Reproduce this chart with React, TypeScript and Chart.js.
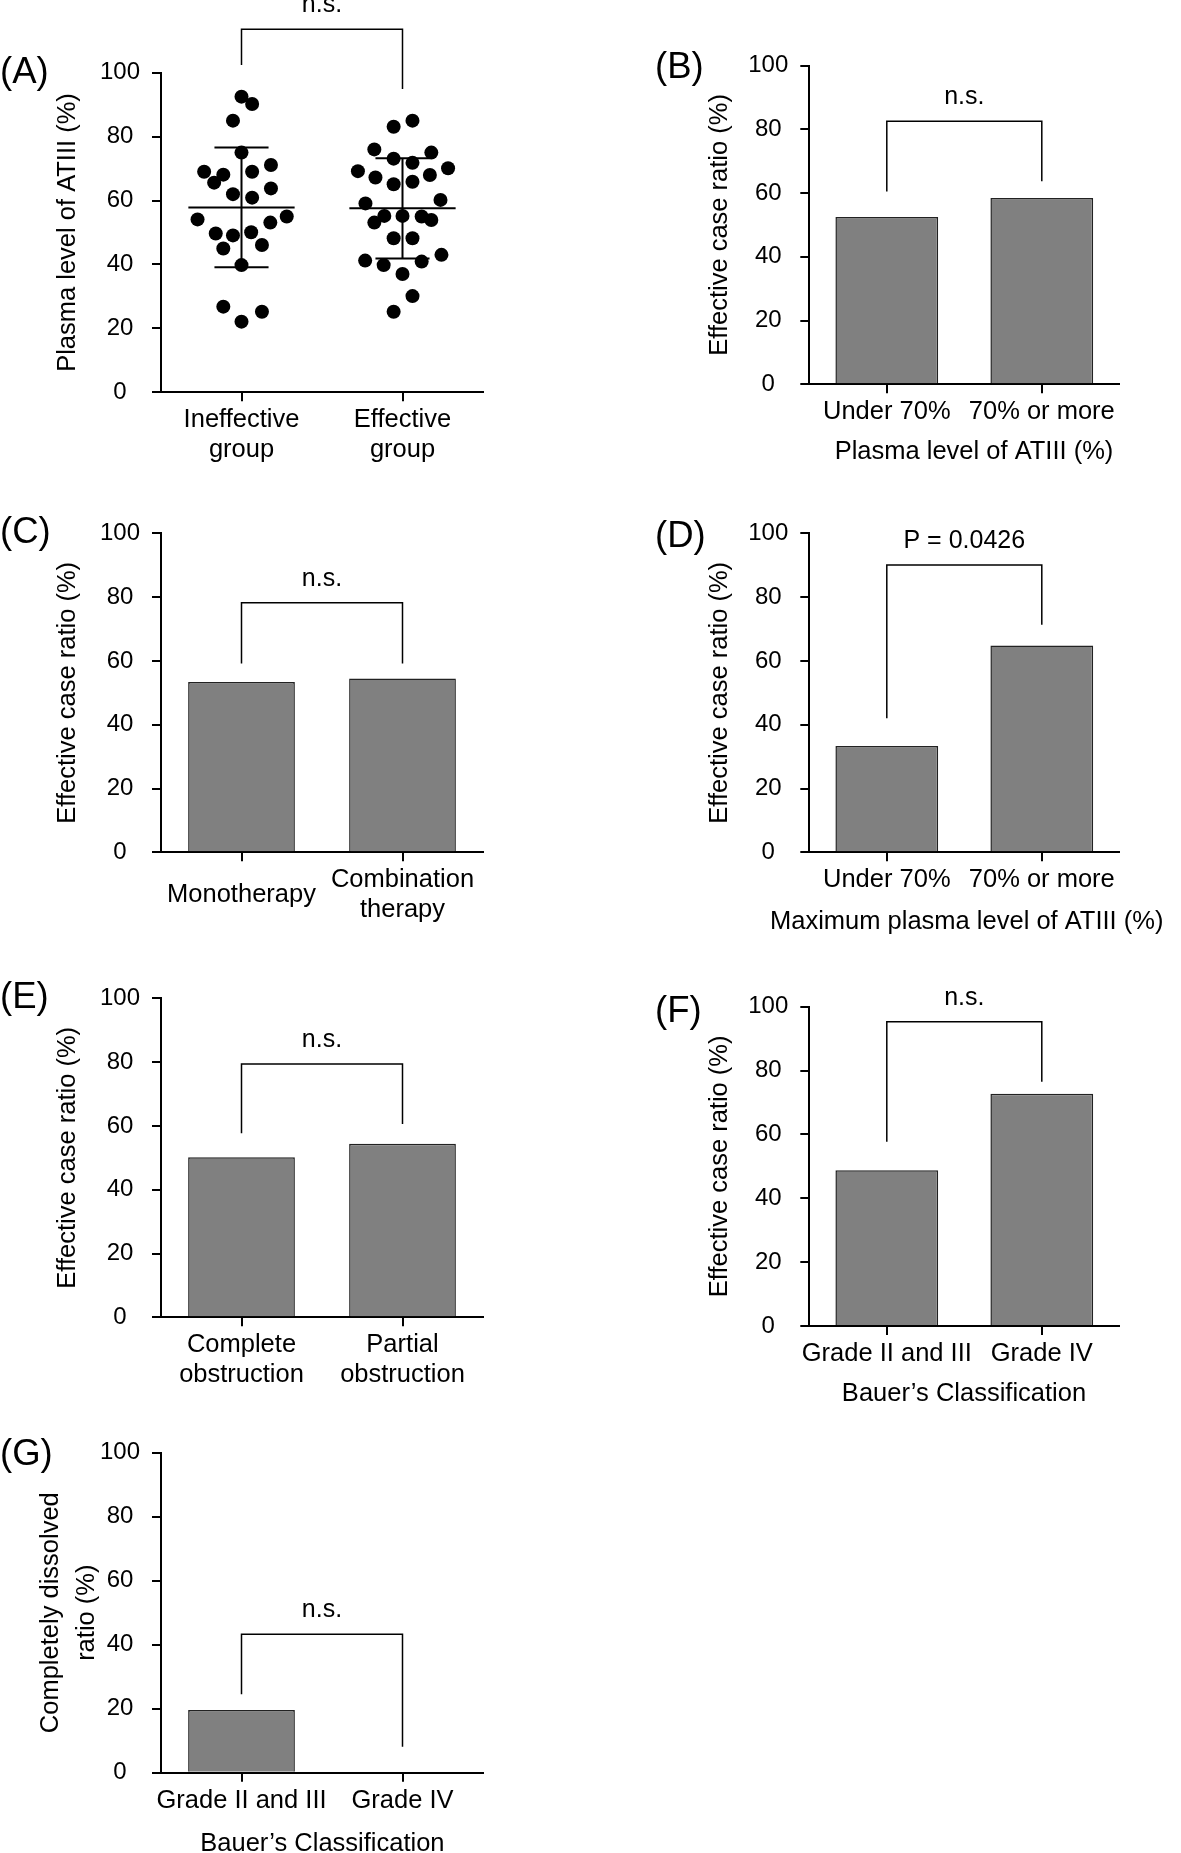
import React, { useEffect, useRef } from "react";
import { Chart, registerables } from "chart.js";

Chart.register(...registerables);

const FONT = "'Liberation Sans', Arial, Helvetica, sans-serif";

// ---------------- Data ----------------
const yTickValues = [0, 20, 40, 60, 80, 100];

// Panel A (scatter, mean ± SD)
const groupLabelsA = [["Ineffective", "group"], ["Effective", "group"]];
const ineffectiveLevels = [92.5, 90.2, 85.0, 75.0, 69.0, 68.1, 65.6, 69.0, 71.1, 62.0, 60.9, 63.8, 54.1, 55.0, 49.7, 49.1, 50.1, 53.1, 45.0, 46.1, 39.8, 26.8, 25.2, 22.1];
const ineffectiveJitter = [0, 0.066, -0.053, 0, -0.232, -0.113, -0.17, 0.066, 0.183, -0.053, 0.066, 0.183, -0.273, 0.281, -0.16, -0.053, 0.06, 0.179, -0.113, 0.127, 0, -0.113, 0.127, 0];
const effectiveLevels = [83.1, 85.0, 76.0, 73.1, 71.8, 75.0, 69.2, 67.2, 65.1, 65.9, 68.0, 70.1, 59.1, 60.2, 55.2, 55.2, 55.0, 53.1, 53.9, 48.2, 48.2, 41.2, 39.8, 40.9, 43.0, 37.0, 30.1, 25.2];
const effectiveJitter = [-0.055, 0.062, -0.175, -0.055, 0.062, 0.179, -0.277, -0.168, -0.055, 0.062, 0.17, 0.283, -0.23, 0.236, -0.113, 0, 0.119, -0.175, 0.179, -0.055, 0.062, -0.232, -0.117, 0.119, 0.242, 0, 0.062, -0.055];
const groupMean = [57.8, 57.6];
const groupSdUpper = [76.6, 73.2];
const groupSdLower = [39.1, 41.9];
const bracketA = [113.6, 102.4, 94.9]; // [bar level, left leg end, right leg end]

// Panel B
const categoriesB = ["Under 70%", "70% or more"];
const valuesB = [52.5, 58.4];
const bracketB = [82.5, 60.5, 63.7];

// Panel C
const categoriesC: (string | string[])[] = ["Monotherapy", ["Combination", "therapy"]];
const valuesC = [53.4, 54.5];
const bracketC = [78.2, 59.2, 59.2];

// Panel D
const categoriesD = ["Under 70%", "70% or more"];
const valuesD = [33.3, 64.8];
const bracketD = [90.1, 42.0, 71.3];

// Panel E
const categoriesE = [["Complete", "obstruction"], ["Partial", "obstruction"]];
const valuesE = [50.2, 54.4];
const bracketE = [79.4, 57.7, 60.6];

// Panel F
const categoriesF = ["Grade II and III", "Grade IV"];
const valuesF = [48.8, 72.7];
const bracketF = [95.3, 57.7, 76.5];

// Panel G
const categoriesG = ["Grade II and III", "Grade IV"];
const valuesG = [19.6, 0];
const bracketG = [43.3, 24.5, 8.1];

// ---------------- Layout / style ----------------
type Panel = {
  kind: "scatter" | "bar";
  letter: string;
  canvas: { l: number; t: number; w: number; h: number };
  axisX: number;
  xEnd: number;
  top100: number;
  zero: number;
  yTitle: string | string[];
  yTitleX: number;
  yTitleLH: number;
  letterPos: [number, number];
  xTitle?: string;
  xTitlePos?: [number, number];
  categories?: (string | string[])[];
  values?: number[];
  bracket: number[];
  bracketLabel: string;
};

const LEFT = { axisX: 161, xEnd: 483, yTitleX: 68.3 };
const RIGHT = { axisX: 809.3, xEnd: 1119.3, yTitleX: 719.5 };
const TEXT_SIZE = 25.5;

const panels: Panel[] = [
  {
    kind: "scatter", letter: "(A)", canvas: { l: 0, t: 0, w: 600, h: 485 }, ...LEFT,
    top100: 72.7, zero: 392.3, yTitle: "Plasma level of ATIII (%)", yTitleLH: 1.2,
    letterPos: [0, 73.3], bracket: bracketA, bracketLabel: "n.s.",
  },
  {
    kind: "bar", letter: "(B)", canvas: { l: 645, t: 0, w: 536, h: 470 }, ...RIGHT,
    top100: 65.5, zero: 384.3, yTitle: "Effective case ratio (%)", yTitleLH: 1.2,
    letterPos: [655, 67.5], xTitle: "Plasma level of ATIII (%)", xTitlePos: [974, 452],
    categories: categoriesB, values: valuesB, bracket: bracketB, bracketLabel: "n.s.",
  },
  {
    kind: "bar", letter: "(C)", canvas: { l: 0, t: 475, w: 600, h: 470 }, ...LEFT,
    top100: 533.3, zero: 852.3, yTitle: "Effective case ratio (%)", yTitleLH: 1.2,
    letterPos: [0, 533.3], categories: categoriesC, values: valuesC, bracket: bracketC, bracketLabel: "n.s.",
  },
  {
    kind: "bar", letter: "(D)", canvas: { l: 645, t: 475, w: 536, h: 470 }, ...RIGHT,
    top100: 533.3, zero: 852.3, yTitle: "Effective case ratio (%)", yTitleLH: 1.2,
    letterPos: [655, 536.7], xTitle: "Maximum plasma level of ATIII (%)", xTitlePos: [966.7, 922],
    categories: categoriesD, values: valuesD, bracket: bracketD, bracketLabel: "P = 0.0426",
  },
  {
    kind: "bar", letter: "(E)", canvas: { l: 0, t: 945, w: 600, h: 465 }, ...LEFT,
    top100: 998.3, zero: 1317.3, yTitle: "Effective case ratio (%)", yTitleLH: 1.2,
    letterPos: [0, 998.3], categories: categoriesE, values: valuesE, bracket: bracketE, bracketLabel: "n.s.",
  },
  {
    kind: "bar", letter: "(F)", canvas: { l: 645, t: 945, w: 536, h: 465 }, ...RIGHT,
    top100: 1006.7, zero: 1326, yTitle: "Effective case ratio (%)", yTitleLH: 1.2,
    letterPos: [655, 1011.7], xTitle: "Bauer\u2019s Classification", xTitlePos: [964, 1393.5],
    categories: categoriesF, values: valuesF, bracket: bracketF, bracketLabel: "n.s.",
  },
  {
    kind: "bar", letter: "(G)", canvas: { l: 0, t: 1410, w: 600, h: 443 }, ...LEFT,
    top100: 1452.7, zero: 1772.7, yTitle: ["Completely dissolved", "ratio (%)"], yTitleX: 50.5, yTitleLH: 1.44,
    letterPos: [0, 1455], xTitle: "Bauer\u2019s Classification", xTitlePos: [322.4, 1844],
    categories: categoriesG, values: valuesG, bracket: bracketG, bracketLabel: "n.s.",
  },
];

function annotPlugin(p: Panel) {
  return {
    id: "annot",
    afterDraw(chart: any) {
      const ctx = chart.ctx as CanvasRenderingContext2D;
      const xs = chart.scales.x;
      const ys = chart.scales.y;
      const bx = p.kind === "scatter" ? [1, 2] : [0, 1];
      const xl = xs.getPixelForValue(bx[0]);
      const xr = xs.getPixelForValue(bx[1]);
      const yTop = ys.getPixelForValue(p.bracket[0]);
      ctx.save();
      ctx.strokeStyle = "#000";
      ctx.fillStyle = "#000";
      ctx.lineWidth = 1.5;
      ctx.beginPath();
      ctx.moveTo(xl, ys.getPixelForValue(p.bracket[1]));
      ctx.lineTo(xl, yTop);
      ctx.lineTo(xr, yTop);
      ctx.lineTo(xr, ys.getPixelForValue(p.bracket[2]));
      ctx.stroke();
      ctx.font = `25px ${FONT}`;
      ctx.textAlign = "center";
      ctx.textBaseline = "middle";
      ctx.fillText(p.bracketLabel, (xl + xr) / 2, yTop - 24);
      if (p.xTitle && p.xTitlePos) {
        ctx.font = `${TEXT_SIZE}px ${FONT}`;
        ctx.fillText(p.xTitle, p.xTitlePos[0] - p.canvas.l, p.xTitlePos[1] - p.canvas.t);
      }
      ctx.font = `36.5px ${FONT}`;
      ctx.textAlign = "left";
      ctx.fillText(p.letter, p.letterPos[0] - p.canvas.l, p.letterPos[1] - p.canvas.t);
      ctx.restore();
    },
  };
}

function buildConfig(p: Panel): any {
  const lh = TEXT_SIZE * p.yTitleLH;
  const padLeft = p.yTitleX - p.canvas.l - lh / 2;
  const yAxisWidth = p.axisX - p.canvas.l - padLeft;
  const xAxisHeight = p.canvas.t + p.canvas.h - p.zero;
  const padding = {
    left: padLeft,
    right: p.canvas.l + p.canvas.w - p.xEnd,
    top: p.top100 - p.canvas.t,
    bottom: 0,
  };

  const yScale = {
    min: 0,
    max: 100,
    afterBuildTicks: (s: any) => { s.ticks = yTickValues.map((v) => ({ value: v })); },
    afterFit: (s: any) => { s.width = yAxisWidth; },
    grid: { drawOnChartArea: false, drawTicks: true, tickLength: 9, color: "#000", lineWidth: 2 },
    border: { display: true, color: "#000", width: 2 },
    ticks: { color: "#000", font: { family: FONT, size: 24 }, padding: 12, crossAlign: "center" },
    title: { display: true, text: p.yTitle, color: "#000", font: { family: FONT, size: TEXT_SIZE, lineHeight: p.yTitleLH }, padding: 0 },
  };

  const xCommon = {
    afterFit: (s: any) => { s.height = xAxisHeight; },
    grid: { drawOnChartArea: false, drawTicks: true, tickLength: 9, color: "#000", lineWidth: 2, offset: false },
    border: { display: true, color: "#000", width: 2 },
    ticks: { color: "#000", font: { family: FONT, size: TEXT_SIZE, lineHeight: 1.18 }, padding: 19, crossAlign: "center", maxRotation: 0, minRotation: 0, autoSkip: false },
    z: 1,
  };

  const baseOptions = {
    animation: false,
    responsive: false,
    events: [],
    layout: { padding },
    plugins: { legend: { display: false }, tooltip: { enabled: false } },
  };

  if (p.kind === "scatter") {
    const pts = (vals: number[], jit: number[], g: number) => vals.map((v, i) => ({ x: g + jit[i], y: v }));
    const lineDs = (data: { x: number; y: number }[]) => ({
      data, showLine: true, pointRadius: 0, borderColor: "#000", borderWidth: 2, fill: false,
    });
    const MEAN_HALF = 0.33;
    const SD_HALF = 0.168;
    const lines: any[] = [];
    groupMean.forEach((m, i) => {
      const g = i + 1;
      lines.push(lineDs([{ x: g - MEAN_HALF, y: m }, { x: g + MEAN_HALF, y: m }]));
      lines.push(lineDs([{ x: g - SD_HALF, y: groupSdUpper[i] }, { x: g + SD_HALF, y: groupSdUpper[i] }]));
      lines.push(lineDs([{ x: g - SD_HALF, y: groupSdLower[i] }, { x: g + SD_HALF, y: groupSdLower[i] }]));
      lines.push(lineDs([{ x: g, y: groupSdLower[i] }, { x: g, y: groupSdUpper[i] }]));
    });
    const dot = { pointRadius: 7, pointHoverRadius: 7, backgroundColor: "#000", borderWidth: 0, pointBorderWidth: 0 };
    return {
      type: "scatter",
      data: {
        datasets: [
          { data: pts(ineffectiveLevels, ineffectiveJitter, 1), ...dot },
          { data: pts(effectiveLevels, effectiveJitter, 2), ...dot },
          ...lines,
        ],
      },
      options: {
        ...baseOptions,
        scales: {
          x: {
            type: "linear",
            min: 0.5,
            max: 2.5,
            afterBuildTicks: (s: any) => { s.ticks = groupLabelsA.map((_, i) => ({ value: i + 1 })); },
            ...xCommon,
            ticks: { ...xCommon.ticks, callback: (v: any) => groupLabelsA[Math.round(Number(v)) - 1] },
          },
          y: yScale,
        },
      },
      plugins: [annotPlugin(p)],
    };
  }

  return {
    type: "bar",
    data: {
      labels: p.categories,
      datasets: [
        {
          data: p.values,
          backgroundColor: "#808080",
          borderColor: "#222222",
          borderWidth: 1.5,
          barPercentage: 0.663,
          categoryPercentage: 1,
        },
      ],
    },
    options: {
      ...baseOptions,
      scales: {
        x: { type: "category", offset: true, ...xCommon },
        y: yScale,
      },
    },
    plugins: [annotPlugin(p)],
  };
}

function ChartPanel({ p }: { p: Panel }) {
  const ref = useRef<HTMLCanvasElement>(null);
  useEffect(() => {
    if (!ref.current) return;
    const chart = new Chart(ref.current, buildConfig(p));
    return () => chart.destroy();
  }, [p]);
  return (
    <canvas
      ref={ref}
      width={p.canvas.w}
      height={p.canvas.h}
      style={{ position: "absolute", left: p.canvas.l, top: p.canvas.t, width: p.canvas.w, height: p.canvas.h }}
    />
  );
}

export default function App() {
  return (
    <div style={{ position: "absolute", left: 0, top: 0, width: 1181, height: 1853, background: "#fff", overflow: "hidden" }}>
      {panels.map((p) => (
        <ChartPanel key={p.letter} p={p} />
      ))}
    </div>
  );
}
